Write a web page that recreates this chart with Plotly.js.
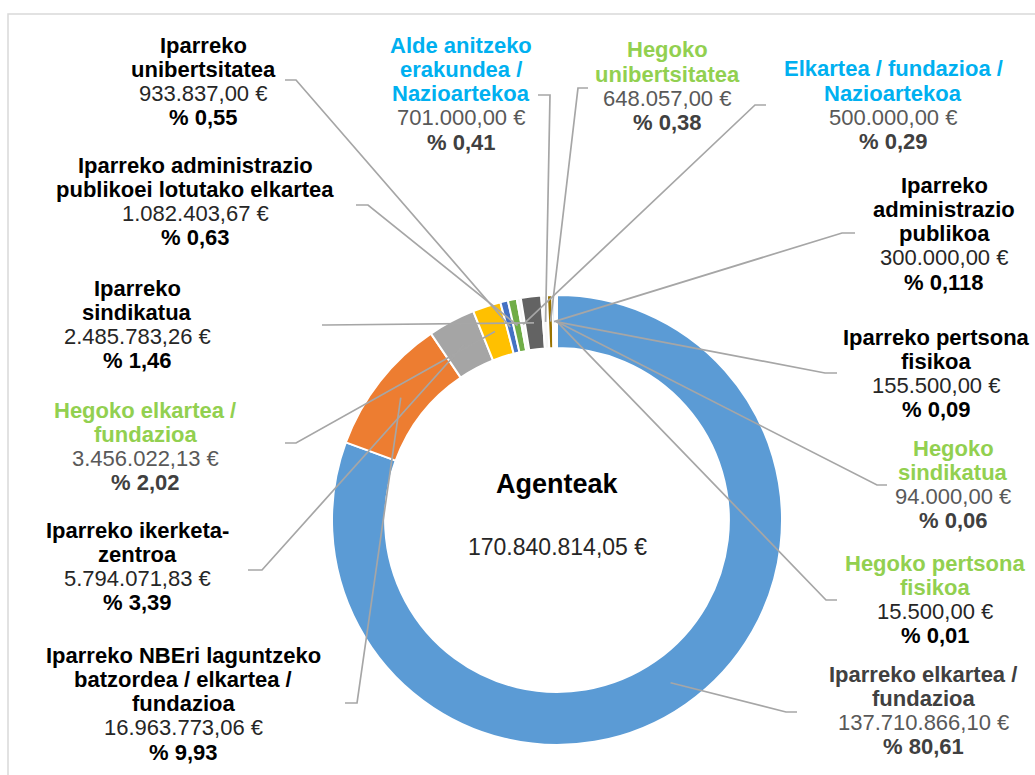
<!DOCTYPE html>
<html>
<head>
<meta charset="utf-8">
<script src="https://cdn.plot.ly/plotly-3.0.1.min.js"></script>
<style>html,body{margin:0;padding:0;background:#fff;}#chart{width:1035px;height:775px;}</style>
</head>
<body>
<div id="chart"></div>
<script>
// ---- data ----
const categories = [
  "Iparreko elkartea /<br>fundazioa",
  "Iparreko NBEri laguntzeko<br>batzordea / elkartea /<br>fundazioa",
  "Iparreko ikerketa-<br>zentroa",
  "Hegoko elkartea /<br>fundazioa",
  "Iparreko<br>unibertsitatea",
  "Iparreko administrazio<br>publikoei lotutako elkartea",
  "Elkartea / fundazioa /<br>Nazioartekoa",
  "Iparreko<br>sindikatua",
  "Alde anitzeko<br>erakundea /<br>Nazioartekoa",
  "Hegoko<br>unibertsitatea",
  "Iparreko<br>administrazio<br>publikoa",
  "Iparreko pertsona<br>fisikoa",
  "Hegoko<br>sindikatua",
  "Hegoko pertsona<br>fisikoa"
];
const values = [137710866.10, 16963773.06, 5794071.83, 3456022.13, 933837.00, 1082403.67,
  500000.00, 2485783.26, 701000.00, 648057.00, 300000.00, 155500.00, 94000.00, 15500.00];
const percentLabels = ["80,61","9,93","3,39","2,02","0,55","0,63","0,29","1,46","0,41","0,38","0,118","0,09","0,06","0,01"];
const centerTitle = "Agenteak";

// ---- styles ----
const sliceColors = ["#5B9BD5","#ED7D31","#A5A5A5","#FFC000","#4472C4","#70AD47","#F7F7F7",
  "#636363","#F7F7F7","#997300","#9DC3E6","#F8CBAD","#E2EFDA","#FFF2CC"];
const groups = ["E","N","N","H","N","N","Z","N","Z","H","N","N","H","H2"];
const groupColors = {
  N:  {t:"#000000", v:"#262626", p:"#000000"},
  E:  {t:"#404040", v:"#595959", p:"#404040"},
  H:  {t:"#92D050", v:"#595959", p:"#404040"},
  H2: {t:"#92D050", v:"#262626", p:"#000000"},
  Z:  {t:"#00B0F0", v:"#595959", p:"#404040"}
};
// label layout in pixels: centre x, first line y, leader start, elbow
const labelPos = [
  {x:923, y:674, a:[797,712], b:[786,712]},
  {x:183, y:655, a:[345,703], b:[357,703]},
  {x:137, y:530, a:[248,570], b:[262,570]},
  {x:145, y:410, a:[285,443], b:[296,443]},
  {x:203, y:45,  a:[285,80],  b:[296,80]},
  {x:195, y:165, a:[356,205], b:[368,205]},
  {x:893, y:69,  a:[766,105], b:[755,105]},
  {x:137, y:288, a:[322,325], b:[326,325]},
  {x:461, y:45,  a:[538,95],  b:[550,95]},
  {x:667, y:50,  a:[588,88],  b:[578,88]},
  {x:944, y:185, a:[855,233], b:[842,233]},
  {x:936, y:337, a:[837,373], b:[825,373]},
  {x:953, y:448, a:[887,485], b:[877,485]},
  {x:935, y:563, a:[837,600], b:[826,600]}
];

const W = 1035, H = 775;
const CX = 557, CY = 520, R = 225, HOLE = 0.764;
const LH = 24.3;
const FONT = "Liberation Sans, Arial, sans-serif";

function fmtEuro(v) {
  const parts = v.toFixed(2).split(".");
  const intPart = parts[0].replace(/\B(?=(\d{3})+(?!\d))/g, ".");
  return intPart + "," + parts[1] + " €";
}
const px = x => x / W;
const py = y => 1 - y / H;

const total = values.reduce((s, v) => s + v, 0);

const annotations = [];
const shapes = [];

// frame
shapes.push({type:"rect", xref:"paper", yref:"paper", x0:px(8), x1:px(1045), y0:py(14), y1:py(790),
  line:{color:"#D9D9D9", width:1.5}, fillcolor:"rgba(0,0,0,0)", layer:"below"});

let cum = 0;
const rMid = R * (1 + HOLE) / 2;
categories.forEach((cat, i) => {
  const c = groupColors[groups[i]];
  const lp = labelPos[i];
  const titleLines = cat.split("<br>");
  const lines = titleLines.map(t => ({text:"<b>" + t + "</b>", color:c.t}));
  lines.push({text:fmtEuro(values[i]), color:c.v});
  lines.push({text:"<b>% " + percentLabels[i] + "</b>", color:c.p});
  lines.forEach((ln, k) => {
    annotations.push({xref:"paper", yref:"paper", x:px(lp.x), y:py(lp.y + k * LH),
      xanchor:"center", yanchor:"middle", showarrow:false, text:ln.text,
      font:{family:FONT, size:22, color:ln.color}});
  });
  // leader line to the slice middle
  const mid = (cum + values[i] / 2) / total * 2 * Math.PI;
  cum += values[i];
  const ex = CX + rMid * Math.sin(mid);
  const ey = CY - rMid * Math.cos(mid);
  const path = "M" + px(lp.a[0]) + "," + py(lp.a[1]) +
               " L" + px(lp.b[0]) + "," + py(lp.b[1]) +
               " L" + px(ex) + "," + py(ey);
  shapes.push({type:"path", xref:"paper", yref:"paper", path:path,
    line:{color:"#A6A6A6", width:1.7}, layer:"above"});
});

annotations.push({xref:"paper", yref:"paper", x:px(CX), y:py(484), xanchor:"center", yanchor:"middle",
  showarrow:false, text:"<b>" + centerTitle + "</b>", font:{family:FONT, size:27, color:"#000000"}});
annotations.push({xref:"paper", yref:"paper", x:px(CX), y:py(547), xanchor:"center", yanchor:"middle",
  showarrow:false, text:fmtEuro(total), font:{family:FONT, size:23, color:"#262626"}});

const trace = {
  type:"pie",
  values:values,
  labels:categories.map(c => c.replace(/<br>/g, " ")),
  sort:false,
  direction:"clockwise",
  rotation:0,
  hole:HOLE,
  textinfo:"none",
  hoverinfo:"label+value+percent",
  marker:{colors:sliceColors, line:{color:"#FFFFFF", width:2}},
  domain:{x:[(CX - R) / W, (CX + R) / W], y:[py(CY + R), py(CY - R)]},
  showlegend:false
};

const layout = {
  width:W, height:H,
  margin:{l:0, r:0, t:0, b:0},
  paper_bgcolor:"#FFFFFF",
  plot_bgcolor:"#FFFFFF",
  showlegend:false,
  annotations:annotations,
  shapes:shapes
};

Plotly.newPlot("chart", [trace], layout, {displayModeBar:false, staticPlot:true});
</script>
</body>
</html>
